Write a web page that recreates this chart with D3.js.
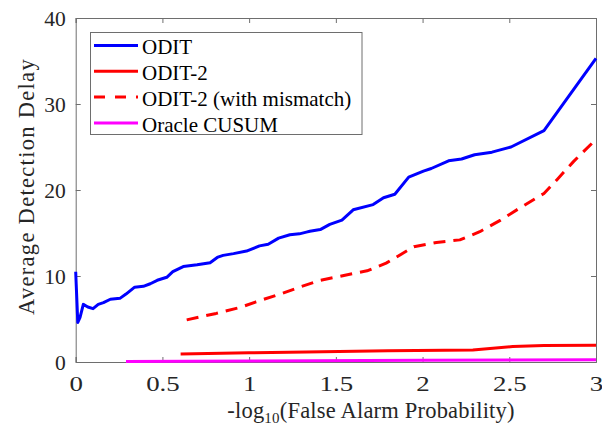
<!DOCTYPE html>
<html><head><meta charset="utf-8">
<script src="https://cdn.jsdelivr.net/npm/d3@7"></script>
<style>body{margin:0;background:#fff;}svg{display:block;} svg text{font-family:"Liberation Serif","Times New Roman","DejaVu Serif",serif !important;}</style>
</head><body>
<svg id="c" width="602" height="425"></svg>
<script>
const xTicks = [0, 0.5, 1, 1.5, 2, 2.5, 3];
const yTicks = [0, 10, 20, 30, 40];
const seriesNames = ["ODIT", "ODIT-2", "ODIT-2 (with mismatch)", "Oracle CUSUM"];

const oditX = [0, 0.003, 0.012, 0.025, 0.044, 0.07, 0.10, 0.13, 0.16, 0.20, 0.255, 0.29, 0.34, 0.39, 0.43, 0.47, 0.525, 0.56, 0.62, 0.70, 0.775, 0.82, 0.85, 0.91, 0.985, 1.06, 1.11, 1.17, 1.235, 1.29, 1.33, 1.35, 1.41, 1.465, 1.535, 1.60, 1.715, 1.775, 1.84, 1.92, 2.005, 2.05, 2.15, 2.225, 2.30, 2.40, 2.51, 2.70, 3.0];
const oditY = [10.5, 9.0, 4.6, 5.2, 6.7, 6.4, 6.2, 6.7, 6.9, 7.3, 7.4, 7.9, 8.7, 8.8, 9.1, 9.5, 9.85, 10.5, 11.1, 11.3, 11.55, 12.2, 12.4, 12.6, 12.9, 13.5, 13.7, 14.4, 14.8, 14.9, 15.1, 15.2, 15.4, 16.0, 16.5, 17.7, 18.3, 19.1, 19.5, 21.5, 22.2, 22.5, 23.4, 23.6, 24.1, 24.4, 25.0, 26.9, 35.3];

const odit2X = [0.605, 1.0, 1.33, 1.8, 2.29, 2.52, 2.7, 3.0];
const odit2Y = [0.93, 1.08, 1.16, 1.3, 1.4, 1.8, 1.92, 1.94];

const mismatchX = [0.64, 0.81, 0.95, 1.04, 1.18, 1.29, 1.41, 1.58, 1.68, 1.79, 1.95, 2.08, 2.215, 2.33, 2.45, 2.56, 2.70, 2.775, 2.87, 3.0];
const mismatchY = [4.9, 5.65, 6.35, 7.0, 7.9, 8.7, 9.5, 10.2, 10.6, 11.5, 13.4, 13.9, 14.2, 15.15, 16.5, 17.9, 19.6, 21.2, 23.3, 25.9];

const cusumX = [0.29, 1.0, 2.0, 3.0];
const cusumY = [0.05, 0.12, 0.2, 0.25];

const svg = d3.select("#c");
const L = 75.7, R = 596, T = 18, B = 362;
const x = d3.scaleLinear().domain([0, 3]).range([L, R]);
const y = d3.scaleLinear().domain([0, 40]).range([B, T]);
const axisColor = "#6e6e6e";

svg.append("rect").attr("x", L).attr("y", T).attr("width", R - L).attr("height", B - T)
  .attr("fill", "#fff");

const gx = svg.append("g").attr("transform", `translate(0,${B})`)
  .call(d3.axisBottom(x).tickValues(xTicks).tickSize(-5).tickPadding(14).tickFormat(d3.format("")));
const gxt = svg.append("g").attr("transform", `translate(0,${T})`)
  .call(d3.axisTop(x).tickValues(xTicks).tickSize(-5).tickFormat(""));
const gy = svg.append("g").attr("transform", `translate(${L},0)`)
  .call(d3.axisLeft(y).tickValues(yTicks).tickSize(-5).tickPadding(10));
const gyr = svg.append("g").attr("transform", `translate(${R},0)`)
  .call(d3.axisRight(y).tickValues(yTicks).tickSize(-5).tickFormat(""));
[gx, gxt, gy, gyr].forEach(g => {
  g.attr("font-family", null);
  g.selectAll("path.domain").attr("stroke", axisColor).attr("stroke-width", 1);
  g.selectAll(".tick line").attr("stroke", axisColor);
  g.selectAll("text").attr("font-size", 21.5).attr("fill", "#262626");
});
gx.selectAll("text").attr("dy", "0.71em").attr("transform", "scale(1.25,1)");
gy.selectAll("text").attr("dy", "0.34em");

const line = d3.line().x(d => x(d[0])).y(d => y(d[1]));
function draw(xs, ys, color, dash, w) {
  svg.append("path").datum(xs.map((v, i) => [v, ys[i]]))
    .attr("d", line).attr("fill", "none").attr("stroke", color)
    .attr("stroke-width", w).attr("stroke-linejoin", "round")
    .attr("stroke-dasharray", dash || null);
}
draw(cusumX, cusumY, "#ff00ff", null, 3);
draw(odit2X, odit2Y, "#ff0000", null, 3);
draw(mismatchX, mismatchY, "#ff0000", "12,8", 3);
draw(oditX, oditY, "#0000ff", null, 3);

svg.append("text").attr("x", 371).attr("y", 418).attr("text-anchor", "middle")
  .attr("font-size", 22.5).attr("fill", "#262626").attr("letter-spacing", 0.2)
  .html('-log<tspan font-size="15" dy="5">10</tspan><tspan dy="-5">(False Alarm Probability)</tspan>');
svg.append("text").attr("transform", `translate(34,186.5) rotate(-90)`)
  .attr("text-anchor", "middle").attr("font-size", 22.5).attr("fill", "#262626").attr("letter-spacing", 1.3)
  .text("Average Detection Delay");

const lg = svg.append("g");
lg.append("rect").attr("x", 90.5).attr("y", 32.5).attr("width", 271.5).attr("height", 102)
  .attr("fill", "#fff").attr("stroke", axisColor).attr("stroke-width", 1);
const items = [
  {name: seriesNames[0], color: "#0000ff", dash: null},
  {name: seriesNames[1], color: "#ff0000", dash: null},
  {name: seriesNames[2], color: "#ff0000", dash: "11,10"},
  {name: seriesNames[3], color: "#ff00ff", dash: null}
];
items.forEach((it, i) => {
  const yy = 45.5 + i * 25.8;
  lg.append("line").attr("x1", 94).attr("x2", 138).attr("y1", yy).attr("y2", yy)
    .attr("stroke", it.color).attr("stroke-width", 3).attr("stroke-dasharray", it.dash);
  lg.append("text").attr("x", 142).attr("y", yy + 1.5).attr("dy", "0.35em")
    .attr("font-size", 21).attr("fill", "#000").text(it.name);
});
</script>
</body></html>
